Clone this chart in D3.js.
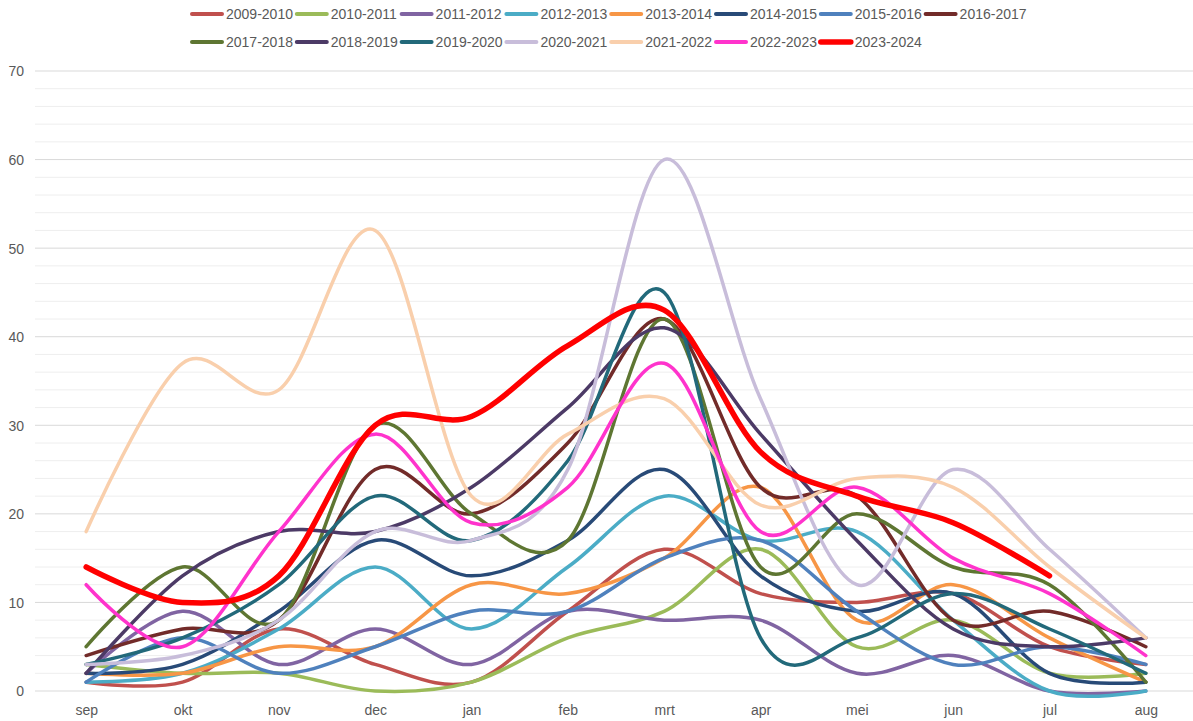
<!DOCTYPE html>
<html>
<head>
<meta charset="utf-8">
<script src="https://cdn.jsdelivr.net/npm/d3@7"></script>
<style>
  body { margin: 0; background: #fff; }
  svg text { font-family: "Liberation Sans", Arial, sans-serif; fill: #595959; }
</style>
</head>
<body>
<svg></svg>
<script>
const months = ["sep", "okt", "nov", "dec", "jan", "feb", "mrt", "apr", "mei", "jun", "jul", "aug"]
const seasons = ["2009-2010", "2010-2011", "2011-2012", "2012-2013", "2013-2014", "2014-2015", "2015-2016", "2016-2017",
                 "2017-2018", "2018-2019", "2019-2020", "2020-2021", "2021-2022", "2022-2023", "2023-2024"]
const colors = ["#c0504d", "#9bbb59", "#8064a2", "#4bacc6", "#f79646", "#284a77", "#4f81bd", "#722b29",
                "#5e7632", "#4c3a66", "#22697a", "#c8bdda", "#f9cfac", "#ff33cc", "#ff0000"]
const yTicks = [0, 10, 20, 30, 40, 50, 60, 70]

// one array per season, sep .. aug
const s0910 = [1, 1, 7, 3, 1, 9, 16, 11, 10, 11, 5, 3]
const s1011 = [3, 2, 2, 0, 1, 6, 9, 16, 5, 8, 2, 2]
const s1112 = [2, 9, 3, 7, 3, 9, 8, 8, 2, 4, 0, 0]
const s1213 = [1, 2, 7, 14, 7, 14, 22, 17, 18, 8, 0, 0]
const s1314 = [2, 2, 5, 5, 12, 11, 15, 23, 8, 12, 6, 1]
const s1415 = [2, 3, 9, 17, 13, 17, 25, 13, 9, 11, 2, 1]
const s1516 = [1, 6, 2, 5, 9, 9, 15, 17, 9, 3, 5, 3]
const s1617 = [4, 7, 8, 25, 20, 28, 42, 23, 22, 8, 9, 5]
const s1718 = [5, 14, 8, 30, 20, 17, 42, 14, 20, 14, 12, 1]
const s1819 = [2, 13, 18, 18, 23, 32, 41, 29, 17, 7, 5, 6]
const s1920 = [3, 6, 12, 22, 17, 26, 45, 6, 6, 11, 7, 2]
const s2021 = [3, 4, 8, 18, 17, 25, 60, 33, 12, 25, 16, 6]
const s2122 = [18, 37, 34, 52, 22, 29, 33, 21, 24, 23, 14, 6]
const s2223 = [12, 5, 18, 29, 19, 23, 37, 18, 23, 15, 11, 4]
const s2324 = [14, 10, 13, 30, 31, 39, 43, 27, 22, 19, 13, null]

const values = [s0910, s1011, s1112, s1213, s1314, s1415, s1516, s1617,
                s1718, s1819, s1920, s2021, s2122, s2223, s2324]

let width = 1193
let height = 721

let svg = d3.select("svg").attr("width", width).attr("height", height)

let xScale = d3.scalePoint()
               .domain(months)
               .range([38, 1194])
               .padding(0.5)

let yScale = d3.scaleLinear()
               .domain([0, 70])
               .range([691, 71])

// gridlines: light every 2, darker every 10
svg.append("g")
   .selectAll("line")
   .data(d3.range(2, 70, 2).filter(v => v % 10 != 0))
   .enter()
   .append("line")
   .attr("x1", 35).attr("x2", 1193)
   .attr("y1", d => yScale(d)).attr("y2", d => yScale(d))
   .attr("stroke", "#eeeeee")
   .attr("stroke-width", 1)

svg.append("g")
   .selectAll("line")
   .data(yTicks)
   .enter()
   .append("line")
   .attr("x1", 35).attr("x2", 1193)
   .attr("y1", d => yScale(d)).attr("y2", d => yScale(d))
   .attr("stroke", "#d9d9d9")
   .attr("stroke-width", 1)

// axes (labels only)
let yAxis = d3.axisLeft(yScale).tickValues(yTicks).tickSize(0).tickPadding(0)
let yG = svg.append("g")
   .attr("transform", "translate(24, 0)")
   .call(yAxis)
yG.select(".domain").remove()
yG.selectAll("text").attr("font-size", 14).attr("dy", "0.35em")

let xAxis = d3.axisBottom(xScale).tickSize(0).tickPadding(0)
let xG = svg.append("g")
   .attr("transform", "translate(0, 705)")
   .call(xAxis)
xG.select(".domain").remove()
xG.selectAll("text").attr("font-size", 14).attr("dy", "0.71em")

// lines
const line = d3.line()
               .defined(d => d != null)
               .x((d, i) => xScale(months[i]))
               .y(d => yScale(d))
               .curve(d3.curveCatmullRom.alpha(0))

svg.append("g")
   .selectAll("path")
   .data(values)
   .enter()
   .append("path")
   .attr("d", d => line(d))
   .attr("fill", "none")
   .attr("stroke", (d, i) => colors[i])
   .attr("stroke-width", (d, i) => i == values.length - 1 ? 5.5 : 3.5)
   .attr("stroke-linecap", "round")
   .attr("stroke-linejoin", "round")

// legend: 8 items on the first row, 7 on the second
let legend = svg.append("g")
let items = legend.selectAll("g")
   .data(seasons)
   .enter()
   .append("g")
   .attr("transform", (d, i) => {
       let row = i < 8 ? 0 : 1
       let col = i < 8 ? i : i - 8
       return "translate(" + (190 + col * 104.8) + ", " + (14 + row * 28) + ")"
   })

items.append("line")
   .attr("x1", 2).attr("x2", 32)
   .attr("y1", 0).attr("y2", 0)
   .attr("stroke", (d, i) => colors[i])
   .attr("stroke-width", (d, i) => i == seasons.length - 1 ? 5.5 : 4)
   .attr("stroke-linecap", "round")

items.append("text")
   .attr("x", 36)
   .attr("y", 0)
   .attr("dy", "0.35em")
   .attr("font-size", 14)
   .text(d => d)
</script>
</body>
</html>
